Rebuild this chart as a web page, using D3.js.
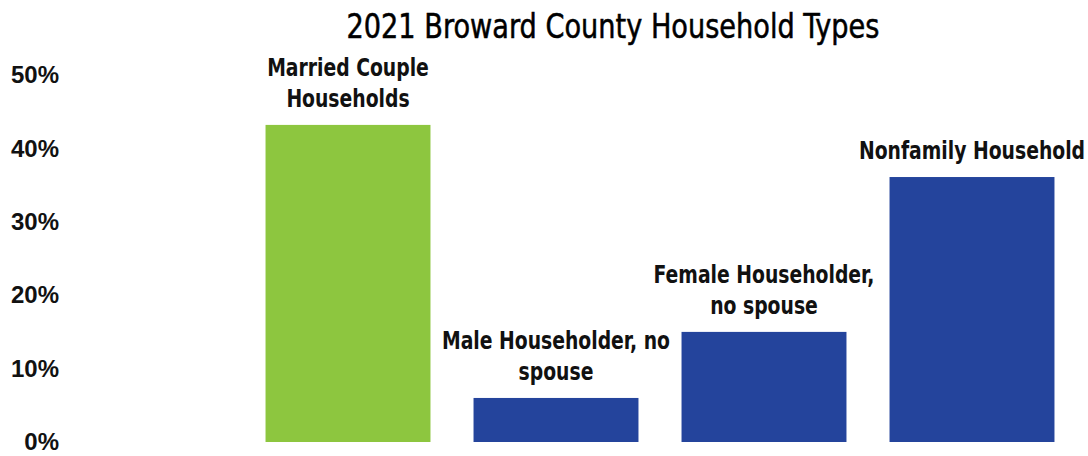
<!DOCTYPE html>
<html>
<head>
<meta charset="utf-8">
<script src="https://cdn.jsdelivr.net/npm/d3@7"></script>
<style>
  html, body { margin: 0; padding: 0; background: #fff; }
  svg { display: block; }
</style>
</head>
<body>
<svg id="chart" width="1088" height="456"></svg>
<script>
// Household type shares, Broward County 2021
const categories = [
  ["Married Couple", "Households"],
  ["Male Householder, no", "spouse"],
  ["Female Householder,", "no spouse"],
  ["Nonfamily Household"]
];
const shares = [0.432, 0.06, 0.15, 0.361];
const barColors = ["#8dc63f", "#24449c", "#24449c", "#24449c"];
const tickValues = [0, 0.1, 0.2, 0.3, 0.4, 0.5];
const titleText = "2021 Broward County Household Types";

const svg = d3.select("#chart");
const condensed = "'Liberation Sans Narrow', 'DejaVu Sans Condensed', sans-serif";

const keys = categories.map((c, i) => i);
const x = d3.scaleBand()
  .domain(keys)
  .range([244, 1076])
  .paddingInner(0.207)
  .paddingOuter(0.1035);

const y = d3.scaleLinear()
  .domain([0, 0.5])
  .range([442, 75]);

// title
svg.append("text")
  .attr("x", 613)
  .attr("y", 38)
  .attr("text-anchor", "middle")
  .attr("font-family", condensed)
  .attr("font-size", 33)
  .attr("textLength", 533)
  .attr("lengthAdjust", "spacingAndGlyphs")
  .attr("fill", "#000")
  .attr("stroke", "#000")
  .attr("stroke-width", 0.5)
  .text(titleText);

// y axis: labels only
const yAxis = d3.axisLeft(y)
  .tickValues(tickValues)
  .tickFormat(d3.format(".0%"))
  .tickSize(0)
  .tickPadding(0);

const gy = svg.append("g")
  .attr("transform", "translate(59,0)")
  .call(yAxis);
gy.select(".domain").remove();
gy.selectAll("text")
  .attr("font-family", "'Liberation Sans', Arial, sans-serif")
  .attr("font-weight", "bold")
  .attr("font-size", 24)
  .attr("fill", "#111");

// bars
svg.append("g")
  .selectAll("rect")
  .data(shares)
  .join("rect")
  .attr("x", (d, i) => x(i))
  .attr("y", d => y(d))
  .attr("width", x.bandwidth())
  .attr("height", d => y(0) - y(d))
  .attr("fill", (d, i) => barColors[i]);

// category labels above bars, narrowed horizontally
const lineH = 31;
const lbl = svg.append("g")
  .selectAll("text")
  .data(shares)
  .join("text")
  .attr("text-anchor", "middle")
  .attr("font-family", condensed)
  .attr("font-weight", "bold")
  .attr("font-size", 24)
  .attr("fill", "#111")
  .attr("transform", (d, i) => {
    const n = categories[i].length;
    return `translate(${x(i) + x.bandwidth() / 2},${y(d) - 18 - (n - 1) * lineH}) scale(0.87,1)`;
  });

lbl.selectAll("tspan")
  .data((d, i) => categories[i])
  .join("tspan")
  .attr("x", 0)
  .attr("dy", (t, j) => j === 0 ? 0 : lineH)
  .text(t => t);
</script>
</body>
</html>
